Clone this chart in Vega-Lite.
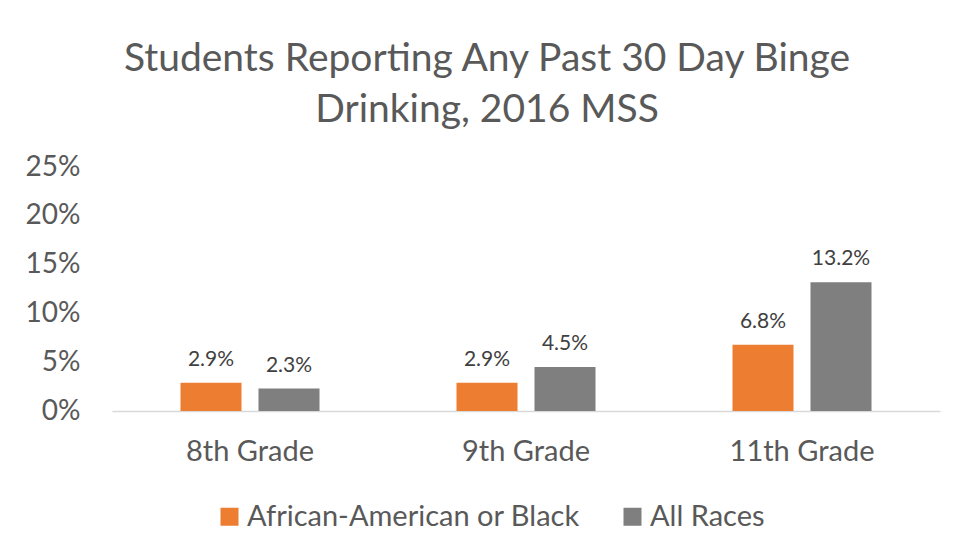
{
  "$schema": "https://vega.github.io/schema/vega-lite/v6.json",
  "autosize": "none",
  "width": 828,
  "height": 244,
  "padding": {"left": 112, "top": 167, "right": 16, "bottom": 144},
  "background": "white",
  "title": {
    "text": ["Students Reporting Any Past 30 Day Binge", "Drinking, 2016 MSS"],
    "fontSize": 39,
    "font": "Lato",
    "fontWeight": "normal",
    "color": "#595959",
    "anchor": "middle",
    "frame": "group",
    "dx": -39,
    "offset": 23,
    "lineHeight": 51
  },
  "data": {
    "values": [
      {"grade": "8th Grade", "series": "African-American or Black", "value": 0.029},
      {"grade": "8th Grade", "series": "All Races", "value": 0.023},
      {"grade": "9th Grade", "series": "African-American or Black", "value": 0.029},
      {"grade": "9th Grade", "series": "All Races", "value": 0.045},
      {"grade": "11th Grade", "series": "African-American or Black", "value": 0.068},
      {"grade": "11th Grade", "series": "All Races", "value": 0.132}
    ]
  },
  "encoding": {
    "x": {
      "field": "grade",
      "type": "nominal",
      "sort": ["8th Grade", "9th Grade", "11th Grade"],
      "scale": {"paddingInner": 0, "paddingOuter": 0},
      "axis": {
        "title": null,
        "labelAngle": 0,
        "labelFont": "Lato",
        "labelFontSize": 29,
        "labelColor": "#595959",
        "labelPadding": 26,
        "ticks": false,
        "domainColor": "#d9d9d9",
        "domainWidth": 1.5
      }
    },
    "xOffset": {
      "field": "series",
      "type": "nominal",
      "sort": ["African-American or Black", "All Races"],
      "scale": {"paddingInner": 0.218, "paddingOuter": 0.878}
    },
    "y": {
      "field": "value",
      "type": "quantitative",
      "scale": {"domain": [0, 0.25], "nice": false},
      "axis": {
        "title": null,
        "values": [0, 0.05, 0.1, 0.15, 0.2, 0.25],
        "format": ".0%",
        "labelFont": "Lato",
        "labelFontSize": 28,
        "labelColor": "#595959",
        "labelPadding": 32,
        "domain": false,
        "ticks": false,
        "grid": false
      }
    }
  },
  "layer": [
    {
      "mark": {"type": "bar"},
      "encoding": {
        "color": {
          "field": "series",
          "type": "nominal",
          "sort": ["African-American or Black", "All Races"],
          "scale": {"domain": ["African-American or Black", "All Races"], "range": ["#ED7D31", "#7F7F7F"]},
          "legend": {
            "title": null,
            "orient": "none",
            "legendX": 103,
            "legendY": 335,
            "direction": "horizontal",
            "symbolType": "square",
            "symbolSize": 324,
            "symbolStrokeWidth": 0,
            "labelFont": "Lato",
            "labelFontSize": 29,
            "labelColor": "#595959",
            "labelLimit": 0,
            "labelOffset": 3,
            "columnPadding": 38
          }
        }
      }
    },
    {
      "mark": {"type": "text", "baseline": "alphabetic", "dy": -17, "font": "Lato", "fontSize": 21, "color": "#404040"},
      "encoding": {
        "text": {"field": "value", "type": "quantitative", "format": ".1%"}
      }
    }
  ],
  "config": {
    "view": {"stroke": null}
  }
}
